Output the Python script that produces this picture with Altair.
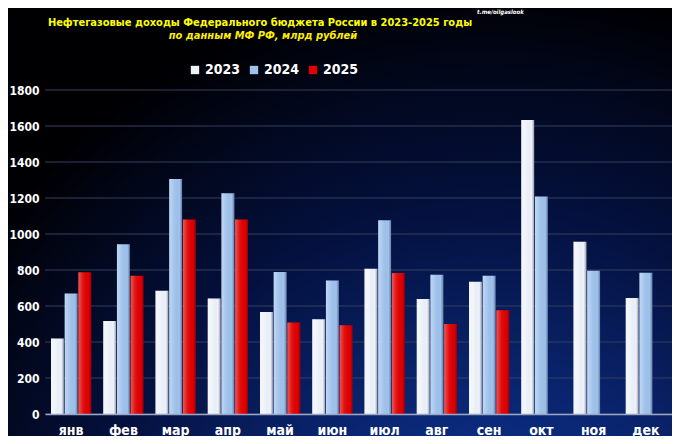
import altair as alt
import pandas as pd

months = ["янв", "фев", "мар", "апр", "май", "июн", "июл", "авг", "сен", "окт", "ноя", "дек"]
years = ["2023", "2024", "2025"]
v2023 = [420, 517, 685, 641, 567, 526, 807, 639, 735, 1633, 957, 644]
v2024 = [670, 943, 1306, 1226, 789, 741, 1076, 774, 768, 1209, 796, 785]
v2025 = [787, 768, 1080, 1081, 509, 493, 783, 500, 576, None, None, None]
y_ticks = [0, 200, 400, 600, 800, 1000, 1200, 1400, 1600, 1800]
colors = ["#eef3fb", "#9fc2ec", "#e00000"]

rows = []
for yr, vals in zip(years, [v2023, v2024, v2025]):
    for m, v in zip(months, vals):
        if v is not None:
            rows.append({"month": m, "year": yr, "value": v})
df = pd.DataFrame(rows)

W, H = 627, 324
PL, PT, PR, PB = 37, 82, 0, 22
FONT = "'DejaVu Sans Condensed', 'Liberation Sans Narrow', Roboto, sans-serif"

y_axis = alt.Axis(values=y_ticks, format="d", labelOverlap=False, grid=False,
                  domain=False, ticks=False,
                  labelColor="white", labelFont=FONT, labelFontSize=12,
                  labelFontWeight="bold", labelPadding=6, zindex=1)
y_scale = alt.Scale(domain=[0, 1800])

bg_grad = {
    "gradient": "radial", "x1": 0.72, "y1": 1.1, "r1": 0, "x2": 0.72, "y2": 1.1, "r2": 0.95,
    "stops": [
        {"offset": 0, "color": "#1a4bb0"},
        {"offset": 0.3, "color": "#0b2a7c"},
        {"offset": 0.65, "color": "#04113f"},
        {"offset": 1, "color": "#000003"},
    ],
}
bg = alt.Chart(pd.DataFrame({"a": [0]})).mark_rect(fill=bg_grad).encode(
    x=alt.value(-PL), x2=alt.value(W + PR), y=alt.value(-PT), y2=alt.value(H + PB)
)

grid = alt.Chart(pd.DataFrame({"value": y_ticks})).mark_rule(color="#34405e", strokeWidth=1).encode(
    y=alt.Y("value:Q", title=None, scale=y_scale, axis=y_axis),
    x=alt.value(0), x2=alt.value(W),
)

base = alt.Chart(df).encode(
    x=alt.X("month:N", sort=months, title=None,
            scale=alt.Scale(paddingInner=0.23, paddingOuter=0.115),
            axis=alt.Axis(labelAngle=0, ticks=False, grid=False, domainColor="#9aa6c4",
                          domainWidth=1.5, labelColor="white", labelFont=FONT,
                          labelFontSize=14, labelFontWeight="bold", labelPadding=9, zindex=1)),
    xOffset=alt.XOffset("year:N", scale=alt.Scale(domain=years, paddingInner=0.06, paddingOuter=0)),
    y=alt.Y("value:Q", title=None, scale=y_scale, axis=y_axis),
)

bars = base.mark_bar().encode(
    color=alt.Color("year:N", scale=alt.Scale(domain=years, range=colors),
                    legend=alt.Legend(title=None, orient="none", direction="horizontal",
                                      legendX=143, legendY=-27, symbolType="square",
                                      symbolSize=70, symbolStrokeWidth=0, labelOffset=3,
                                      labelColor="white", labelFont=FONT, labelFontSize=14,
                                      labelFontWeight="bold", columnPadding=6, zindex=1))
)

shade_grad = {
    "gradient": "linear", "x1": 0, "y1": 0, "x2": 1, "y2": 0,
    "stops": [
        {"offset": 0, "color": "rgba(255,255,255,0.35)"},
        {"offset": 0.35, "color": "rgba(255,255,255,0.08)"},
        {"offset": 0.8, "color": "rgba(0,0,0,0.0)"},
        {"offset": 1, "color": "rgba(0,0,50,0.35)"},
    ],
}
shade = base.mark_bar(fill=shade_grad)

one = pd.DataFrame({"a": [0]})
title = alt.Chart(one).mark_text(
    text="Нефтегазовые доходы Федерального бюджета России в 2023-2025 годы",
    font=FONT, fontSize=11, fontWeight="bold", color="#ffff00", align="center", baseline="alphabetic",
).encode(x=alt.value(215), y=alt.value(-64))
subtitle = alt.Chart(one).mark_text(
    text="по данным МФ РФ, млрд рублей",
    font=FONT, fontSize=11, fontWeight="bold", fontStyle="italic", color="#ffee00", align="center",
    baseline="alphabetic",
).encode(x=alt.value(218), y=alt.value(-51))
credit = alt.Chart(one).mark_text(
    text="t.me/oilgaslook",
    font=FONT, fontSize=6, fontWeight="bold", fontStyle="italic", color="white", align="left",
    baseline="alphabetic",
).encode(x=alt.value(432), y=alt.value(-76))

chart = alt.layer(bg, grid, bars, shade, title, subtitle, credit).properties(
    width=W, height=H,
    padding={"left": PL, "top": PT, "right": PR, "bottom": PB},
    autosize=alt.AutoSizeParams(type="none"),
    background="#000008",
).configure_view(stroke=None)

chart.save("out.html", embed_options={"renderer": "svg", "actions": False})
